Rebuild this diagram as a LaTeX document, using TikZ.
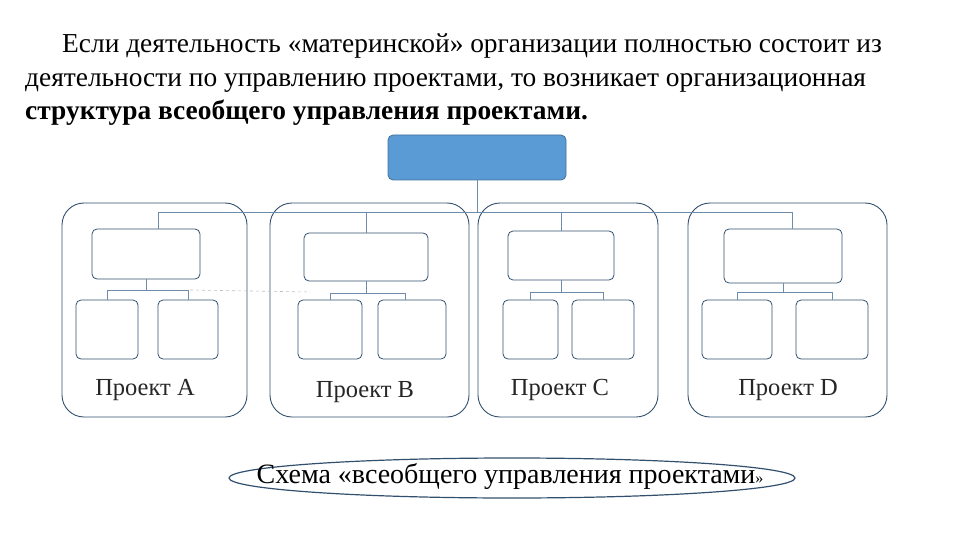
\documentclass[tikz,border=0pt]{standalone}
\usepackage{fontspec}
\setmainfont{Liberation Serif}
\definecolor{edge}{RGB}{50,80,110}
\definecolor{thin}{RGB}{110,140,170}
\begin{document}
\begin{tikzpicture}[x=1pt,y=-1pt,
  line/.style={draw=edge, line width=0.9pt},
  cont/.style={line, rounded corners=22pt},
  box/.style={draw=edge, line width=0.8pt, rounded corners=5pt},
  conn/.style={draw=thin, line width=0.6pt},
  txt/.style={anchor=base west, inner sep=0pt, font=\fontsize{27.4}{30}\selectfont},
  lab/.style={font=\fontsize{24.5}{27}\selectfont, text=black!85}]
\useasboundingbox (0,0) rectangle (960,540);
\node[txt] (t1) at (62,53) {Если деятельность «материнской» организации полностью состоит из};
\node[txt] (t2) at (25,87) {деятельности по управлению проектами, то возникает организационная};
\node[txt] (t3) at (25,120) {\bfseries структура всеобщего управления проектами.};
% top box
\draw[box, fill={rgb,255:red,91;green,155;blue,213}, draw={rgb,255:red,65;green,113;blue,156}] (388,135) rectangle (566,180);
\coordinate (top) at (477,180);
% containers
\draw[cont] (62,203) rectangle (247,417);
\draw[cont] (270,203) rectangle (469,417);
\draw[cont] (478,203) rectangle (658,417);
\draw[cont] (688,203) rectangle (887,417);
% inner top boxes
\draw[box] (92,229) rectangle (200,279);
\draw[box] (304,233) rectangle (428,281);
\draw[box] (508,231) rectangle (614,280);
\draw[box] (724,229) rectangle (842,283);
% children
\foreach \a/\b in {76/138,158/218,298/362,378/446,503/558,572/634,702/772,796/868}
  \draw[box] (\a,300) rectangle (\b,359);
% connectors
\draw[conn] (top) -- (477,212);
\draw[conn] (158,212) -- (792,212);
\draw[conn] (158,212) -- (158,229);
\draw[conn] (366,212) -- (366,233);
\draw[conn] (561,212) -- (561,231);
\draw[conn] (792,212) -- (792,229);
% sub connectors
\draw[conn] (146,279) -- (146,290); \draw[conn] (107,300) -- (107,290) -- (188,290) -- (188,300);
\draw[conn] (366,281) -- (366,293); \draw[conn] (330,300) -- (330,293) -- (405,293) -- (405,300);
\draw[conn] (561,280) -- (561,292); \draw[conn] (530,300) -- (530,292) -- (603,292) -- (603,300);
\draw[conn] (783,283) -- (783,292); \draw[conn] (737,300) -- (737,292) -- (832,292) -- (832,300);
\draw[conn, dashed, draw=black!25] (190,290) -- (310,292);
% labels
\node[lab] (la) at (145,390) {Проект A};
\node[lab] (lb) at (365,392) {Проект B};
\node[lab] (lc) at (560,390) {Проект C};
\node[lab] (ld) at (788,390) {Проект D};
% ellipse
\draw[line, line width=1.2pt] (512,478) ellipse (283 and 20);
\node[font=\fontsize{28}{30}\selectfont] (cap) at (510,476) {Схема «всеобщего управления проектами{\fontsize{16}{18}\selectfont»}};
\end{tikzpicture}
\end{document}
